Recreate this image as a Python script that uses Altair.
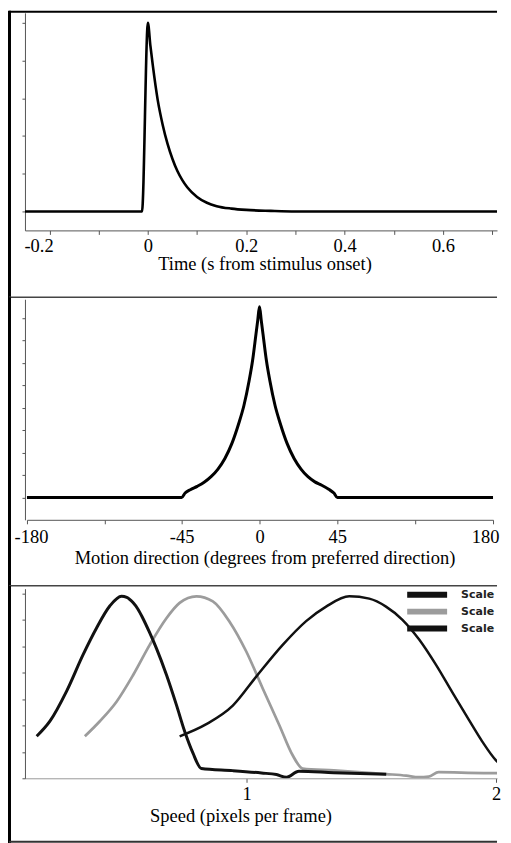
import altair as alt
import pandas as pd

# ---------------- data ----------------
# Panel 1: temporal response
TIME_S = [-0.25, -0.012, 0.0, 0.005, 0.01, 0.02, 0.03, 0.04, 0.05, 0.06, 0.07,
          0.08, 0.10, 0.12, 0.14, 0.17, 0.20, 0.25, 0.30, 0.71]
TIME_V = [0.0, 0.0, 5.0, 4.4, 3.87, 2.95, 2.3, 1.79, 1.39, 1.07, 0.83,
          0.64, 0.385, 0.23, 0.14, 0.075, 0.04, 0.015, 0.0, 0.0]
TIME_TICKS = [-0.2, -0.1, 0.0, 0.1, 0.2, 0.3, 0.4, 0.5, 0.6, 0.7]
TIME_LABELS = [-0.2, 0, 0.2, 0.4, 0.6]

# Panel 2: direction tuning
DIR_DEG = [-180, -45, -43, -40, -36, -32, -28, -24, -20, -16, -12, -9, -6, -4,
           -2, -1, 0, 1, 2, 4, 6, 9, 12, 16, 20, 24, 28, 32, 36, 40, 43, 45, 180]
DIR_V = [0, 0, 0.2, 0.35, 0.5, 0.68, 0.93, 1.27, 1.74, 2.4, 3.3, 4.1, 5.2, 6.1,
         7.3, 7.9, 8.5, 7.9, 7.3, 6.1, 5.2, 4.1, 3.3, 2.4, 1.74, 1.27, 0.93, 0.7,
         0.55, 0.37, 0.2, 0, 0]
DIR_TICKS = [-180, -112.5, -45, 0, 45, 112.5, 180]
DIR_LABELS = [-180, -45, 0, 45, 180]

# Panel 3: speed tuning, three scales
SERIES = ["Scale 1", "Scale 2", "Scale 3"]
COLORS = ["#111111", "#9c9c9c", "#111111"]
WIDTHS = [3.0, 2.5, 2.6]
S1_X = [0.159, 0.212, 0.279, 0.345, 0.399, 0.452, 0.499, 0.52, 0.545, 0.565, 0.585,
        0.61, 0.639, 0.679, 0.719, 0.752, 0.785, 0.819, 0.945, 1.06, 1.12, 1.16,
        1.21, 1.35, 1.56]
S1_Y = [1.59, 2.16, 3.30, 4.68, 5.69, 6.52, 6.89, 6.85, 6.65, 6.4, 6.05,
        5.55, 4.92, 3.92, 2.78, 1.78, 0.96, 0.37, 0.29, 0.2, 0.14, 0.04,
        0.27, 0.21, 0.15]
S2_X = [0.352, 0.412, 0.479, 0.545, 0.612, 0.679, 0.732, 0.799, 0.865, 0.932,
        0.999, 1.065, 1.132, 1.185, 1.225, 1.35, 1.56, 1.64, 1.69, 1.73, 1.77,
        1.95, 2.06]
S2_Y = [1.59, 2.16, 2.90, 3.90, 5.05, 6.06, 6.64, 6.89, 6.70, 5.93,
        4.80, 3.40, 2.00, 0.87, 0.37, 0.3, 0.16, 0.1, 0.04, 0.06, 0.23,
        0.2, 0.2]
S3_X = [0.732, 0.839, 0.945, 1.039, 1.145, 1.239, 1.319, 1.412, 1.492, 1.559,
        1.625, 1.692, 1.759, 1.825, 1.892, 1.945, 1.999, 2.039, 2.059]
S3_Y = [1.59, 2.05, 2.75, 3.85, 5.05, 5.95, 6.5, 6.89, 6.8, 6.5,
        6.0, 5.25, 4.3, 3.25, 2.2, 1.39, 0.69, 0.37, 0.3]
SPEED_TICKS = [1, 2]

# ---------------- styling ----------------
SERIF = "Liberation Serif"
FS = 18.5
AX = "#555555"
LEFT = -16   # left end of the horizontal frame rules (relative to plot origin)
RIGHT = 473  # right end of the frame


def label_expr(labels):
    arr = ",".join(str(v) for v in labels)
    return f"indexof([{arr}], datum.value) >= 0 ? toString(datum.value) : ''"


def x_axis(values, labels, title, title_x, title_y, label_y, label_offset=0, domain_color=AX):
    return alt.Axis(values=values, labelExpr=label_expr(labels), tickSize=4,
                    tickColor=AX, domainColor=domain_color, labelPadding=label_y - 4,
                    labelBaseline="alphabetic", labelFont=SERIF, labelFontSize=FS,
                    labelColor="black", labelFlush=False, labelOverlap=False,
                    labelOffset=label_offset,
                    title=title, titleFont=SERIF, titleFontSize=FS,
                    titleFontWeight="normal", titleColor="black",
                    titleBaseline="alphabetic", titleX=title_x, titleY=title_y,
                    grid=False)


def y_axis(values):
    return alt.Axis(values=values, labels=False, tickSize=3, tickColor=AX,
                    domainColor=AX, title="", grid=False)


ONE = alt.Data(values=[{"k": 0}])


def hrule(x1, x2, y, color, w):
    return alt.Chart(ONE).mark_rule(color=color, strokeWidth=w).encode(
        x=alt.value(x1), x2=alt.value(x2), y=alt.value(y))


def vrule(x, y1, y2, color, w):
    return alt.Chart(ONE).mark_rule(color=color, strokeWidth=w).encode(
        x=alt.value(x), y=alt.value(y1), y2=alt.value(y2))


# ---------------- panel 1 ----------------
df1 = pd.DataFrame({"t": TIME_S, "v": TIME_V})
offset_t = {"condition": {"test": "datum.value == -0.2", "value": -11}, "value": 0}
line1 = alt.Chart(df1).mark_line(color="black", strokeWidth=2.6, interpolate="monotone").encode(
    x=alt.X("t:Q", scale=alt.Scale(domain=[-0.25, 0.71], nice=False, zero=False),
            axis=x_axis(TIME_TICKS, TIME_LABELS, "Time (s from stimulus onset)", 240, 39.5, 21,
                        offset_t)),
    y=alt.Y("v:Q", scale=alt.Scale(domain=[-0.503, 5.265], nice=False, zero=False),
            axis=y_axis([0, 1, 2, 3, 4, 5])),
)
p1 = alt.layer(
    line1,
    hrule(LEFT, RIGHT, -1, "black", 2),
    vrule(-15.5, -2, 287, "black", 3),
    hrule(LEFT, RIGHT, 285, "#444444", 1.5),
).properties(width=RIGHT, height=218)

# ---------------- panel 2 ----------------
df2 = pd.DataFrame({"d": DIR_DEG, "v": DIR_V})
offset_d = {"condition": [{"test": "datum.value == 180", "value": -8},
                          {"test": "datum.value == -180", "value": 4}], "value": 0}
line2 = alt.Chart(df2).mark_line(color="black", strokeWidth=3, interpolate="monotone").encode(
    x=alt.X("d:Q", scale=alt.Scale(domain=[-180, -45, 45, 180], range=[2, 157, 313, 469],
                                   nice=False, zero=False),
            axis=x_axis(DIR_TICKS, DIR_LABELS,
                        "Motion direction (degrees from preferred direction)", 240, 43.5, 23,
                        offset_d)),
    y=alt.Y("v:Q", scale=alt.Scale(domain=[-0.99, 8.83], nice=False, zero=False),
            axis=y_axis(list(range(0, 9)))),
)
p2 = alt.layer(
    line2,
    vrule(-15.5, -2, 289, "black", 3),
    hrule(LEFT, RIGHT, 287, "#444444", 1.5),
).properties(width=469, height=221)

# ---------------- panel 3 ----------------
rows = []
for name, xs, ys in [(SERIES[1], S2_X, S2_Y), (SERIES[0], S1_X, S1_Y), (SERIES[2], S3_X, S3_Y)]:
    for i, (xv, yv) in enumerate(zip(xs, ys)):
        rows.append({"series": name, "s": xv, "v": yv, "i": i})
df3 = pd.DataFrame(rows)
color_scale = alt.Scale(domain=SERIES, range=COLORS)
line3 = alt.Chart(df3).mark_line(interpolate="monotone", clip=True).encode(
    x=alt.X("s:Q", scale=alt.Scale(domain=[0.112, 0.112 + RIGHT / 250], nice=False, zero=False),
            axis=x_axis(SPEED_TICKS, SPEED_TICKS, "Speed (pixels per frame)", 216, 43.5, 21,
                        domain_color="#999999")),
    y=alt.Y("v:Q", scale=alt.Scale(domain=[0, 7.178], nice=False, zero=False),
            axis=y_axis(list(range(0, 8)))),
    color=alt.Color("series:N", scale=color_scale, legend=None),
    strokeWidth=alt.StrokeWidth("series:N", scale=alt.Scale(domain=SERIES, range=WIDTHS), legend=None),
    detail="series:N",
    order="i:Q",
)
leg_y = alt.Y("series:N", scale=alt.Scale(type="point", domain=SERIES, range=[6, 40], padding=0),
              axis=None)
df_leg = pd.DataFrame({"series": SERIES})
leg_sw = alt.Chart(df_leg).mark_rule(strokeWidth=6, clip=True).encode(
    x=alt.value(383), x2=alt.value(423), y=leg_y,
    color=alt.Color("series:N", scale=color_scale, legend=None),
)
leg_tx = alt.Chart(df_leg).mark_text(align="left", baseline="middle", font="DejaVu Sans",
                                     fontWeight="bold", fontSize=11, color="#222222",
                                     clip=True).encode(
    x=alt.value(437), y=leg_y, text="series:N",
)
p3 = alt.layer(
    line3, leg_sw, leg_tx,
    vrule(-15.5, -3, 255, "black", 3),
    hrule(LEFT, RIGHT, 253.5, "#333333", 2),
).resolve_scale(y="independent").properties(width=RIGHT, height=190)

chart = alt.vconcat(p1, p2, p3, spacing=69, bounds="flush").properties(
    padding={"left": 0, "top": 0, "right": 0, "bottom": 0},
    background="white",
).configure_view(strokeWidth=0)

chart.save("out.html", embed_options={"renderer": "svg", "actions": False})
